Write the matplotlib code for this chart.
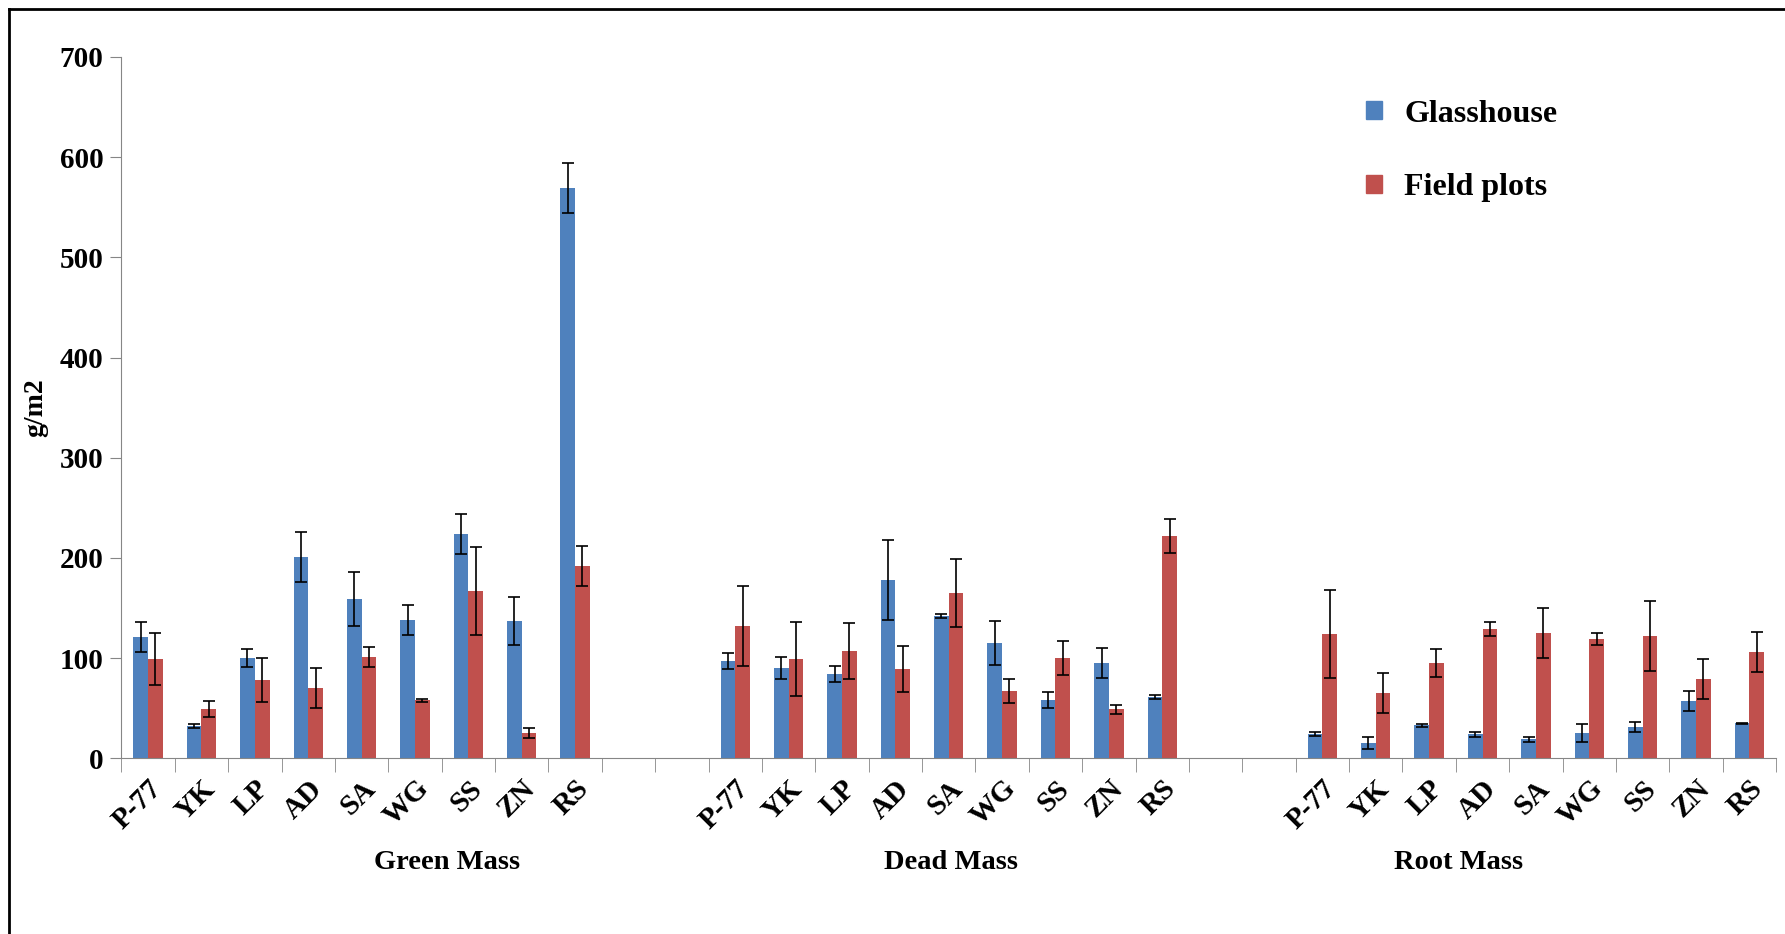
import numpy as np
import matplotlib.pyplot as plt
from matplotlib.patches import Patch
from matplotlib.lines import Line2D

plt.rcParams['font.family'] = ['Liberation Serif', 'DejaVu Serif']
plt.rcParams['font.weight'] = 'bold'
plt.rcParams['axes.labelweight'] = 'bold'

species = ["P-77", "YK", "LP", "AD", "SA", "WG", "SS", "ZN", "RS"]
groups = ["Green Mass", "Dead Mass", "Root Mass"]

# glasshouse means / errors per group (Green, Dead, Root)
glass_green = [121, 32, 100, 201, 159, 138, 224, 137, 569]
glass_green_err = [15, 2, 9, 25, 27, 15, 20, 24, 25]
glass_dead = [97, 90, 84, 178, 142, 115, 58, 95, 61]
glass_dead_err = [8, 11, 8, 40, 2, 22, 8, 15, 2]
glass_root = [24, 15, 33, 24, 19, 25, 31, 57, 35]
glass_root_err = [2, 6, 1.5, 2.5, 2.5, 9, 5, 10, 0.5]

# field plots means / errors
field_green = [99, 49, 78, 70, 101, 58, 167, 25, 192]
field_green_err = [26, 8, 22, 20, 10, 1.5, 44, 5, 20]
field_dead = [132, 99, 107, 89, 165, 67, 100, 49, 222]
field_dead_err = [40, 37, 28, 23, 34, 12, 17, 4.5, 17]
field_root = [124, 65, 95, 129, 125, 119, 122, 79, 106]
field_root_err = [44, 20, 14, 7, 25, 6, 35, 20, 20]

blue = "#4F81BD"
red = "#C0504D"

glass = glass_green + glass_dead + glass_root
glass_err = glass_green_err + glass_dead_err + glass_root_err
field = field_green + field_dead + field_root
field_err = field_green_err + field_dead_err + field_root_err

# 9 categories per group, 2 empty slots between groups
gap = 2
pos = []
for g in range(3):
    start = g * (len(species) + gap)
    pos += [start + i for i in range(len(species))]
pos = np.array(pos)
n_slots = 3 * len(species) + 2 * gap

fig = plt.figure(figsize=(17.85, 9.34), dpi=100)
ax = fig.add_axes([0.068, 0.188, 0.927, 0.751])

w = 0.275
ekw = dict(elinewidth=1.2, capthick=1.2, ecolor="black")
ax.bar(pos - w / 2, glass, w, color=blue, yerr=glass_err, capsize=4,
       error_kw=ekw, label="Glasshouse")
ax.bar(pos + w / 2, field, w, color=red, yerr=field_err, capsize=4,
       error_kw=ekw, label="Field plots")

ax.set_xlim(-0.5, n_slots - 0.5)
ax.set_ylim(0, 700)
ax.set_yticks(np.arange(0, 701, 100))
ax.tick_params(axis="y", labelsize=21, length=8, color="#868686", pad=5)

ax.set_xticks(pos)
ax.set_xticklabels(species * 3, rotation=45, ha="right", va="top",
                   rotation_mode="anchor", fontsize=21)
ax.set_xticks(np.arange(-0.5, n_slots, 1), minor=True)
ax.tick_params(axis="x", which="major", length=0, pad=12)
ax.tick_params(axis="x", which="minor", length=10, color="#868686")

for s in ["top", "right"]:
    ax.spines[s].set_visible(False)
for s in ["left", "bottom"]:
    ax.spines[s].set_color("#868686")

ax.set_ylabel("g/m2", fontsize=20, fontweight="bold", labelpad=8)

group_x = [5.6, 15.05, 24.56]
for gx, name in zip(group_x, groups):
    ax.text(gx, -0.148, name, transform=ax.get_xaxis_transform(),
            ha="center", va="center", fontsize=20.5, fontweight="bold")

handles = [Patch(color=blue, label="Glasshouse"), Patch(color=red, label="Field plots")]
fig.legend(handles=handles, loc="upper left", bbox_to_anchor=(0.749, 0.924),
           frameon=False, fontsize=23, handlelength=0.5, handleheight=0.5,
           labelspacing=1.4, handletextpad=0.7)

# outer frame (cropped on right/bottom)
fig.add_artist(Line2D([0.005, 0.005], [0, 0.99], color="black", lw=2))
fig.add_artist(Line2D([0.005, 1], [0.99, 0.99], color="black", lw=2))

fig.savefig("out.png", dpi=100)
